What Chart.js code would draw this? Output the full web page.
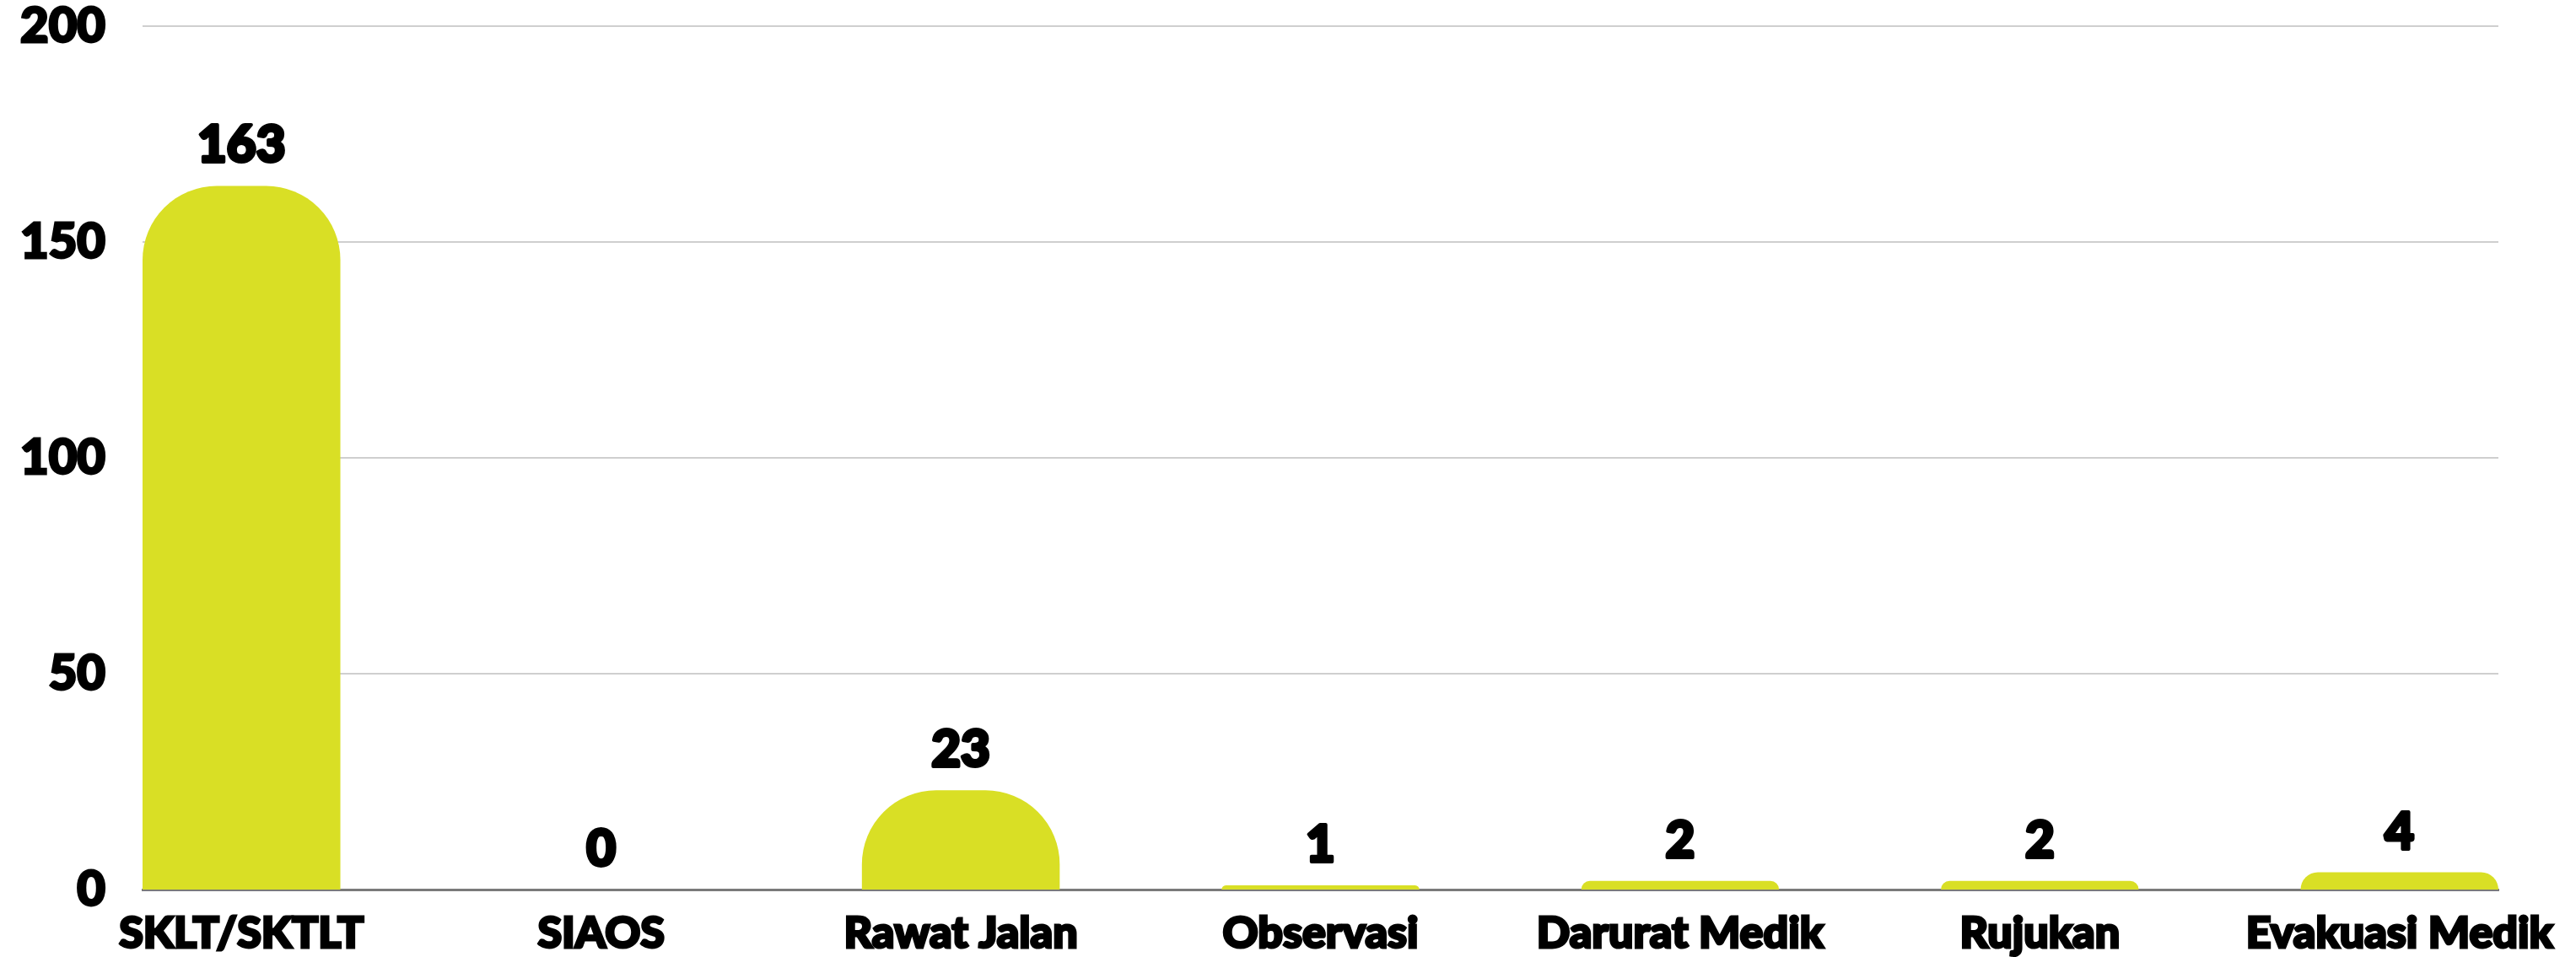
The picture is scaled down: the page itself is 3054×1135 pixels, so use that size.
<!DOCTYPE html>
<html>
<head>
<meta charset="utf-8">
<script src="https://cdn.jsdelivr.net/npm/chart.js@4.4.1/dist/chart.umd.min.js"></script>
<style>
  html, body { margin: 0; padding: 0; background: #fff; }
  #wrap { width: 3054px; height: 1135px; }
</style>
</head>
<body>
<div id="wrap"><canvas id="barChart"></canvas></div>
<script>
const categories = ['SKLT/SKTLT', 'SIAOS', 'Rawat Jalan', 'Observasi', 'Darurat Medik', 'Rujukan', 'Evakuasi Medik'];
const values = [163, 0, 23, 1, 2, 2, 4];
const yTicks = [0, 50, 100, 150, 200];

const barColor = '#d9df25';
const fontFamily = "'Lato', 'DejaVu Sans', sans-serif";
const barFraction = 0.55;

// value labels on top of each bar
const valueLabels = {
  id: 'valueLabels',
  afterDatasetsDraw(chart) {
    const ctx = chart.ctx;
    const meta = chart.getDatasetMeta(0);
    ctx.save();
    ctx.font = `900 60px ${fontFamily}`;
    ctx.fillStyle = '#000';
    ctx.strokeStyle = '#000';
    ctx.lineWidth = 4;
    ctx.lineJoin = 'round';
    ctx.textAlign = 'center';
    ctx.textBaseline = 'alphabetic';
    meta.data.forEach((bar, i) => {
      ctx.strokeText(String(values[i]), bar.x, bar.y - 28);
      ctx.fillText(String(values[i]), bar.x, bar.y - 28);
    });
    ctx.restore();
  }
};

const ctx = document.getElementById('barChart').getContext('2d');

// bars go from -v to v and are clipped at the axis, so the corner radius
// is only limited by the visible height (like the original chart)
let barChart = new Chart(ctx, {
  type: 'bar',
  data: {
    datasets: [{
      data: values.map((v, i) => ({ x: i, y: [-v, v] })),
      backgroundColor: barColor,
      borderWidth: 0,
      borderSkipped: false,
      borderRadius: 88,
      categoryPercentage: 1,
      barPercentage: barFraction,
      clip: 0
    }]
  },
  options: {
    responsive: true,
    maintainAspectRatio: false,
    animation: false,
    layout: { padding: { top: 31, right: 92, left: 0, bottom: 0 } },
    plugins: {
      legend: { display: false },
      tooltip: { enabled: false }
    },
    scales: {
      x: {
        type: 'linear',
        offset: false,
        min: -barFraction / 2,
        max: categories.length - 1 + barFraction / 2,
        afterBuildTicks: scale => {
          scale.ticks = categories.map((c, i) => ({ value: i }));
        },
        afterFit: scale => { scale.height = 80; },
        grid: { display: false, drawTicks: false, offset: false },
        border: { display: true, color: '#7a7a7a', width: 3 },
        ticks: {
          autoSkip: false,
          maxRotation: 0,
          padding: 21,
          color: '#000',
          textStrokeColor: '#000',
          textStrokeWidth: 3,
          font: { family: fontFamily, size: 52, weight: '900' },
          callback: v => categories[v]
        }
      },
      y: {
        min: 0,
        max: 200,
        afterBuildTicks: scale => {
          scale.ticks = yTicks.map(v => ({ value: v }));
        },
        afterFit: scale => {
          scale.width = 169;
          scale.paddingTop = 0;
          scale.paddingBottom = 0;
        },
        grid: {
          color: c => c.tick && c.tick.value === 0 ? 'rgba(0,0,0,0)' : '#cfcfcf',
          lineWidth: 2,
          drawTicks: false
        },
        border: { display: false },
        ticks: {
          padding: 44,
          color: '#000',
          textStrokeColor: '#000',
          textStrokeWidth: 3,
          font: { family: fontFamily, size: 58, weight: '900' }
        }
      }
    }
  },
  plugins: [valueLabels]
});
</script>
</body>
</html>
